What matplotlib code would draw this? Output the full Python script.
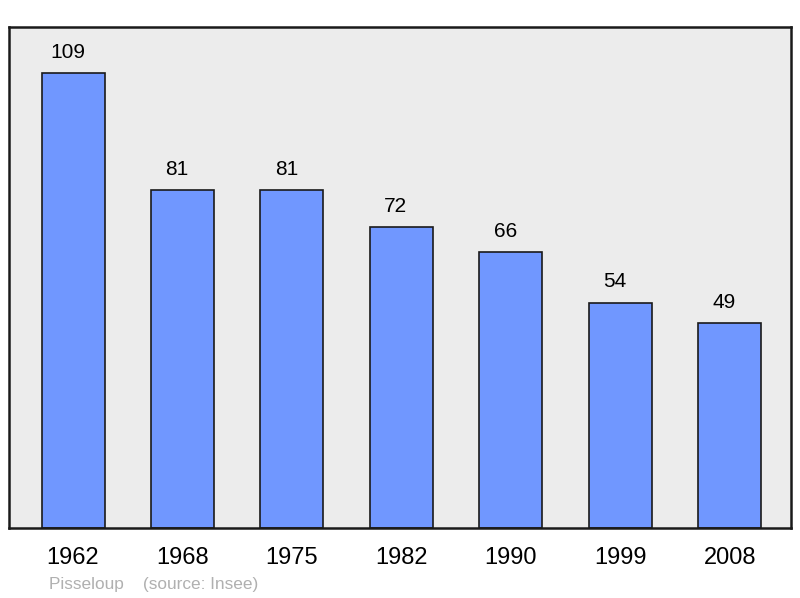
import matplotlib.pyplot as plt

years = ["1962", "1968", "1975", "1982", "1990", "1999", "2008"]
population = [109, 81, 81, 72, 66, 54, 49]

plt.rcParams['font.family'] = ['Liberation Sans', 'DejaVu Sans']

fig = plt.figure(figsize=(8, 5.98), dpi=100)
ax = fig.add_axes([9 / 800, 1 - 528 / 598, 782 / 800, 501 / 598])
ax.set_facecolor('#ececec')

x = list(range(len(years)))
bars = ax.bar(x, population, width=0.576, color='#7097ff', edgecolor='#1a1a1a', linewidth=1.2)

# value labels above bars (sit a bit left of centre like the original)
for xi, v in zip(x, population):
    ax.annotate(str(v), (xi, v), xytext=(-4, 8), textcoords='offset points',
                ha='center', va='bottom', fontsize=15)

ax.set_xlim(-0.585, 6.56)
ax.set_ylim(0, 120)
ax.set_xticks(x)
ax.set_xticklabels(years, fontsize=17)
ax.tick_params(axis='x', length=0, pad=14)
ax.set_yticks([])
for s in ax.spines.values():
    s.set_linewidth(1.8)
    s.set_color('#1a1a1a')

fig.text(49 / 800, 1 - 585 / 598, "Pisseloup    (source: Insee)", fontsize=12.4,
         color='#b0b0b0', va='center', ha='left')

fig.savefig('out.png', dpi=100)
